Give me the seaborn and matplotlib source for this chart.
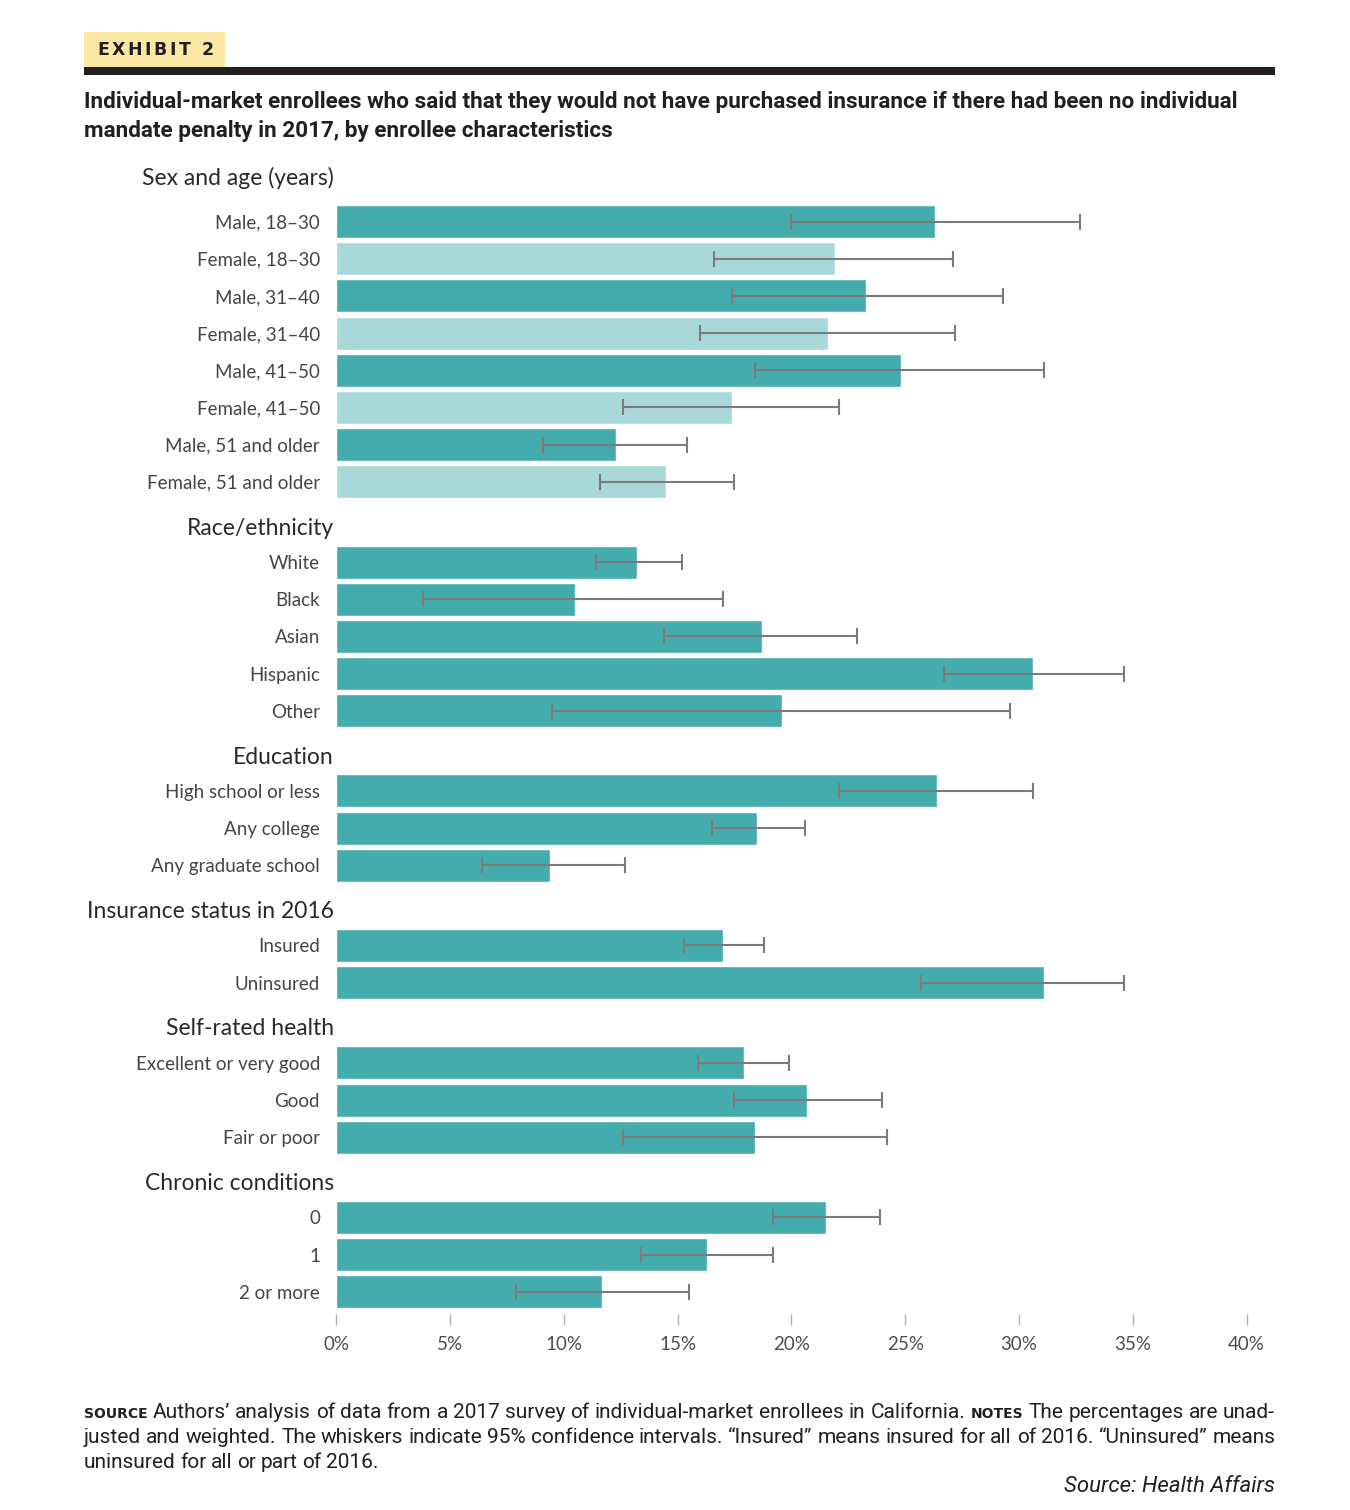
import numpy as np
import pandas as pd
import seaborn as sns
import matplotlib.pyplot as plt
from matplotlib.patches import Rectangle
from matplotlib.transforms import blended_transform_factory

# chart data (percent)
group_names = ['Sex and age (years)', 'Race/ethnicity', 'Education',
               'Insurance status in 2016', 'Self-rated health', 'Chronic conditions']
group_sizes = [8, 5, 3, 2, 3, 3]
labels = ['Male, 18–30', 'Female, 18–30', 'Male, 31–40', 'Female, 31–40',
          'Male, 41–50', 'Female, 41–50', 'Male, 51 and older', 'Female, 51 and older',
          'White', 'Black', 'Asian', 'Hispanic', 'Other',
          'High school or less', 'Any college', 'Any graduate school',
          'Insured', 'Uninsured',
          'Excellent or very good', 'Good', 'Fair or poor',
          '0', '1', '2 or more']
pct = [26.3, 21.9, 23.3, 21.6, 24.8, 17.4, 12.3, 14.5,
       13.2, 10.5, 18.7, 30.6, 19.6,
       26.4, 18.5, 9.4,
       17.0, 31.1,
       17.9, 20.7, 18.4,
       21.5, 16.3, 11.7]
ci_low = [20.0, 16.6, 17.4, 16.0, 18.4, 12.6, 9.1, 11.6,
          11.4, 3.8, 14.4, 26.7, 9.5,
          22.1, 16.5, 6.4,
          15.3, 25.7,
          15.9, 17.5, 12.6,
          19.2, 13.4, 7.9]
ci_high = [32.7, 27.1, 29.3, 27.2, 31.1, 22.1, 15.4, 17.5,
           15.2, 17.0, 22.9, 34.6, 29.6,
           30.6, 20.6, 12.7,
           18.8, 34.6,
           19.9, 24.0, 24.2,
           23.9, 19.2, 15.5]
shade = ['dark', 'light'] * 4 + ['dark'] * 16
x_ticks = [0, 5, 10, 15, 20, 25, 30, 35, 40]

DARK = '#231f20'
W, H = 1350, 1510

# row positions with a gap between groups
pos, header_pos = [], []
y = 0.0
for gi, n in enumerate(group_sizes):
    if gi > 0:
        y += 1.155
    header_pos.append(y)
    for k in range(n):
        pos.append(y)
        y += 1

df = pd.DataFrame({'label': labels, 'pct': pct, 'lo': ci_low, 'hi': ci_high,
                   'shade': shade, 'pos': pos})

sns.set_theme(style='white')
plt.rcParams['font.family'] = ['Lato', 'DejaVu Sans']

fig = plt.figure(figsize=(W / 100, H / 100), dpi=100)
fig.patch.set_facecolor('white')
renderer = fig.canvas.get_renderer()

# background axes in pixel coordinates for the header / notes
bg = fig.add_axes([0, 0, 1, 1])
bg.set_xlim(0, W)
bg.set_ylim(H, 0)
bg.set_axis_off()

ax = fig.add_axes([336 / W, 1 - 1308.5 / H, 910.7 / W, (1308.5 - 199.2) / H])
ax.patch.set_alpha(0)

sns.barplot(data=df, x='pct', y='pos', hue='shade',
            palette={'dark': '#45ACAD', 'light': '#A9D8D9'},
            orient='y', native_scale=True, width=0.887, dodge=False,
            legend=False, errorbar=None, saturation=1, ax=ax)
ax.errorbar(df['pct'], df['pos'], xerr=[df['pct'] - df['lo'], df['hi'] - df['pct']],
            fmt='none', ecolor='#7b7b7b', elinewidth=1.5, capsize=6.1,
            capthick=1.5, zorder=3)

ax.set_xlim(0, 40)
ax.set_ylim(pos[-1] + 0.45, -0.6)
ax.set_xlabel('')
ax.set_ylabel('')
for s in ax.spines.values():
    s.set_visible(False)
ax.spines['bottom'].set_position(('outward', 3.6))

ax.set_xticks(x_ticks, [f'{v}%' for v in x_ticks])
ax.tick_params(axis='x', bottom=True, length=7.9, width=1, color='#b0b0b0',
               pad=8, labelsize=13.5, labelcolor='#4d4d4d')
ax.set_yticks(pos, labels)
ax.tick_params(axis='y', left=False, length=0, pad=11.5, labelsize=13.5,
               labelcolor='#454545')

# group headers
trans = blended_transform_factory(fig.transFigure, ax.transData)
for gi, (name, hp) in enumerate(zip(group_names, header_pos)):
    off = 1.16 if gi == 0 else 0.91
    ax.text(334 / W, hp - off, name, transform=trans, ha='right', va='center',
            fontsize=16.5, color='#2a2a2a')

# exhibit tag (letter-spaced), rule and title
bg.add_patch(Rectangle((84, 32), 141, 35, color='#FAE8A4', lw=0))
bg.add_patch(Rectangle((84, 67), 1191, 8, color=DARK, lw=0))
x = 97
for ch in 'EXHIBIT 2':
    t = bg.text(x, 55, ch, family='DejaVu Sans', fontweight='bold',
                fontsize=12.5, color=DARK, va='baseline', ha='left')
    x += t.get_window_extent(renderer).width + 2.6

title_font = ['Roboto', 'DejaVu Sans']
bg.text(84, 102, 'Individual-market enrollees who said that they would not have purchased '
        'insurance if there had been no individual', family=title_font,
        fontweight='bold', fontsize=16.2, color=DARK, va='center')
bg.text(84, 131, 'mandate penalty in 2017, by enrollee characteristics', family=title_font,
        fontweight='bold', fontsize=16.2, color=DARK, va='center')

# notes, justified like the print version
note_font = ['Roboto', 'DejaVu Sans']
note_lines = [
    ([('SOURCE', 'cap')] + [(w, 'txt') for w in "Authors’ analysis of data from a 2017 survey of individual-market enrollees in California.".split()]
     + [('NOTES', 'cap')] + [(w, 'txt') for w in 'The percentages are unad-'.split()], True),
    ([(w, 'txt') for w in 'justed and weighted. The whiskers indicate 95% confidence intervals. “Insured” means insured for all of 2016. “Uninsured” means'.split()], True),
    ([(w, 'txt') for w in 'uninsured for all or part of 2016.'.split()], False),
]
baselines = [1418, 1443, 1468]
for (tokens, justify), yb in zip(note_lines, baselines):
    arts = []
    for word, kind in tokens:
        if kind == 'cap':
            t = bg.text(0, yb, word, family='DejaVu Sans', fontweight='bold',
                        fontsize=10, color=DARK, va='baseline')
        else:
            t = bg.text(0, yb, word, family=note_font, fontsize=15, color=DARK,
                        va='baseline')
        arts.append(t)
    widths = [a.get_window_extent(renderer).width for a in arts]
    if justify:
        gap = (1191 - sum(widths)) / (len(arts) - 1)
    else:
        gap = 4.5
    x = 84
    for a, w in zip(arts, widths):
        a.set_x(x)
        x += w + gap

bg.text(1275, 1492, 'Source: Health Affairs', family=note_font, style='italic',
        fontsize=16, color=DARK, ha='right', va='baseline')

fig.savefig('out.png', dpi=100, facecolor='white')
